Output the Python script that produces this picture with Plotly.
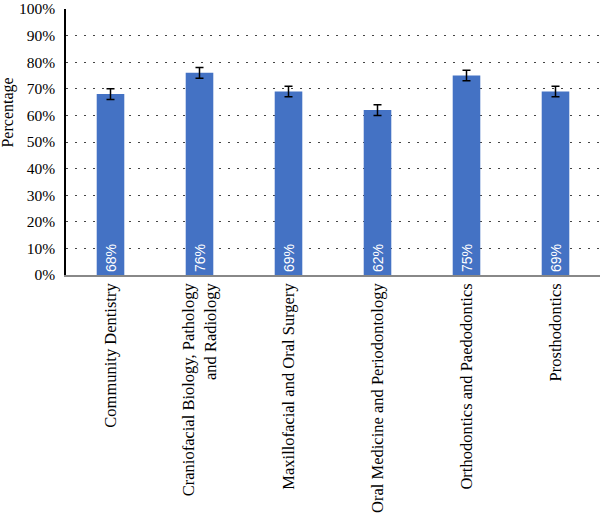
import plotly.graph_objects as go

categories = [
    "Community Dentistry",
    "Craniofacial Biology, Pathology<br>and Radiology",
    "Maxillofacial and Oral Surgery",
    "Oral Medicine and Periodontology",
    "Orthodontics and Paedodontics",
    "Prosthodontics",
]
values = [68, 76, 69, 62, 75, 69]
errors = [2, 2, 2, 2, 2, 2]
labels = [f"{v}%" for v in values]
y_ticks = list(range(0, 101, 10))
y_tick_labels = [f"{t}%" for t in y_ticks]

fig = go.Figure()
fig.add_trace(go.Bar(
    x=categories,
    y=values,
    marker=dict(color="#4472C4", line=dict(width=0)),
    error_y=dict(type="data", array=errors, visible=True, color="black", thickness=1.5, width=4),
    text=labels,
    textposition="inside",
    insidetextanchor="start",
    textangle=-90,
    textfont=dict(color="white", size=14, family="Liberation Sans"),
    cliponaxis=False,
))

fig.update_layout(
    width=600, height=516,
    margin=dict(l=66, r=0, t=9, b=241, autoexpand=False),
    plot_bgcolor="white",
    paper_bgcolor="white",
    bargap=0.69,
    showlegend=False,
    font=dict(family="Liberation Serif", color="black", size=15),
)
fig.update_xaxes(
    tickangle=-90,
    tickfont=dict(size=16.5, family="Liberation Serif"),
    automargin=False,
    showline=True, linecolor="#888888", linewidth=1.5,
    ticks="", showgrid=False,
)
fig.update_yaxes(
    range=[0, 100],
    automargin=False,
    tickvals=y_ticks, ticktext=y_tick_labels,
    tickfont=dict(size=15.5, family="Liberation Serif"),
    ticklabeloverflow="allow",
    ticklabelstandoff=6,
    showline=True, linecolor="black", linewidth=1.5,
    showgrid=True, gridcolor="#444444", griddash="2px,7px", gridwidth=1.2,
    zeroline=False,
    ticks="",
)
fig.add_annotation(
    text="Percentage", textangle=-90,
    xref="paper", yref="y", x=-0.109, y=61,
    xanchor="center", yanchor="middle", showarrow=False,
    font=dict(size=16, family="Liberation Serif", color="black"),
)

fig.write_html("out.html")
